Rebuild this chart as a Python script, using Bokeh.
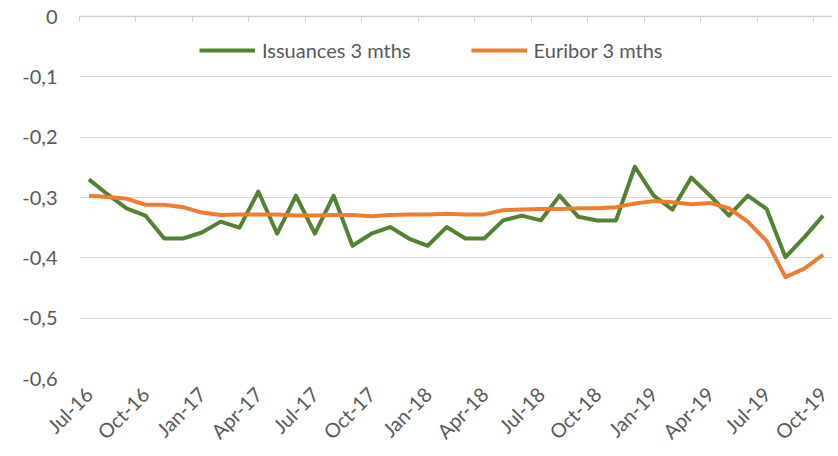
import math
from bokeh.plotting import figure
from bokeh.models import (Range1d, FixedTicker, LinearAxis, Legend, LegendItem,
                          ColumnDataSource)
from bokeh.embed import file_html
from bokeh.resources import INLINE

months = [
    "Jul-16", "Aug-16", "Sep-16", "Oct-16", "Nov-16", "Dec-16",
    "Jan-17", "Feb-17", "Mar-17", "Apr-17", "May-17", "Jun-17",
    "Jul-17", "Aug-17", "Sep-17", "Oct-17", "Nov-17", "Dec-17",
    "Jan-18", "Feb-18", "Mar-18", "Apr-18", "May-18", "Jun-18",
    "Jul-18", "Aug-18", "Sep-18", "Oct-18", "Nov-18", "Dec-18",
    "Jan-19", "Feb-19", "Mar-19", "Apr-19", "May-19", "Jun-19",
    "Jul-19", "Aug-19", "Sep-19", "Oct-19",
]

issuances = [
    -0.27, -0.295, -0.318, -0.33, -0.368, -0.368,
    -0.358, -0.34, -0.35, -0.29, -0.36, -0.297,
    -0.36, -0.297, -0.38, -0.36, -0.349, -0.368,
    -0.38, -0.349, -0.368, -0.368, -0.338, -0.33,
    -0.338, -0.297, -0.332, -0.338, -0.338, -0.249,
    -0.297, -0.32, -0.267, -0.297, -0.33, -0.297,
    -0.319, -0.399, -0.366, -0.33,
]

euribor = [
    -0.297, -0.299, -0.302, -0.312, -0.312, -0.316,
    -0.325, -0.329, -0.328, -0.328, -0.328, -0.330,
    -0.330, -0.329, -0.329, -0.331, -0.329, -0.328,
    -0.328, -0.327, -0.328, -0.328, -0.321, -0.320,
    -0.319, -0.319, -0.318, -0.318, -0.316, -0.310,
    -0.306, -0.308, -0.311, -0.309, -0.318, -0.340,
    -0.372, -0.432, -0.418, -0.395,
]

y_ticks = [0, -0.1, -0.2, -0.3, -0.4, -0.5, -0.6]
y_tick_labels = ["0", "-0,1", "-0,2", "-0,3", "-0,4", "-0,5", "-0,6"]

series_names = ["Issuances 3 mths", "Euribor 3 mths"]
series_colors = ["#548235", "#ED7D31"]

FONT = "Lato"
TXT = "#595959"
FS = "20px"

idx = list(range(len(months)))
src = ColumnDataSource(dict(x=idx, iss=issuances, eur=euribor))

p = figure(width=838, height=456, output_backend="svg", toolbar_location=None,
           x_range=Range1d(-0.5, len(months) - 0.5),
           y_range=Range1d(min(y_ticks), max(y_ticks)),
           min_border_left=79, min_border_right=6,
           min_border_top=16, min_border_bottom=78,
           x_axis_location=None, y_axis_location=None)
p.outline_line_color = None
p.background_fill_color = "white"
p.border_fill_color = "white"

# y axis (left)
yax = LinearAxis(ticker=FixedTicker(ticks=y_ticks))
yax.major_label_overrides = {t: l for t, l in zip(y_ticks, y_tick_labels)}
yax.axis_line_color = None
yax.major_tick_line_color = None
yax.major_tick_out = 0
yax.major_tick_in = 0
yax.minor_tick_line_color = None
yax.major_label_standoff = 22
yax.major_label_text_font = FONT
yax.major_label_text_font_size = FS
yax.major_label_text_color = TXT
p.add_layout(yax, "left")

# x axis (bottom) labels only
tick_pos = idx[::3]
xax = LinearAxis(ticker=FixedTicker(ticks=tick_pos))
xax.major_label_overrides = {i: months[i] for i in tick_pos}
xax.axis_line_color = None
xax.major_tick_line_color = None
xax.major_tick_out = 0
xax.major_tick_in = 0
xax.minor_tick_line_color = None
xax.major_label_orientation = math.pi / 4
xax.major_label_standoff = 12
xax.major_label_text_font = FONT
xax.major_label_text_font_size = FS
xax.major_label_text_color = TXT
p.add_layout(xax, "below")

# top axis line at y = 0 with tick marks at category boundaries
bounds = [i - 0.5 for i in tick_pos]
top = LinearAxis(ticker=FixedTicker(ticks=bounds))
top.major_label_overrides = {b: "" for b in bounds}
top.axis_line_color = "#D0D0D0"
top.axis_line_width = 1.5
top.major_tick_line_color = "#D0D0D0"
top.major_tick_in = 5
top.major_tick_out = 0
top.minor_tick_line_color = None
top.major_label_standoff = 0
p.add_layout(top, "above")

p.xgrid.visible = False
p.ygrid.ticker = FixedTicker(ticks=[t for t in y_ticks if t != 0])
p.ygrid.grid_line_color = "#D9D9D9"
p.ygrid.grid_line_width = 1

r1 = p.line("x", "iss", source=src, line_color=series_colors[0], line_width=4,
            line_join="round")
r2 = p.line("x", "eur", source=src, line_color=series_colors[1], line_width=4,
            line_join="round")

legend = Legend(items=[LegendItem(label=series_names[0], renderers=[r1]),
                       LegendItem(label=series_names[1], renderers=[r2])],
                orientation="horizontal", location=(120, 316))
legend.border_line_color = None
legend.background_fill_alpha = 0
legend.padding = 0
legend.margin = 0
legend.spacing = 60
legend.glyph_width = 56
legend.glyph_height = 20
legend.label_height = 20
legend.label_standoff = 7
legend.label_text_font = FONT
legend.label_text_font_size = FS
legend.label_text_color = TXT
p.add_layout(legend, "center")

open("out.html", "w").write(file_html(p, INLINE))
